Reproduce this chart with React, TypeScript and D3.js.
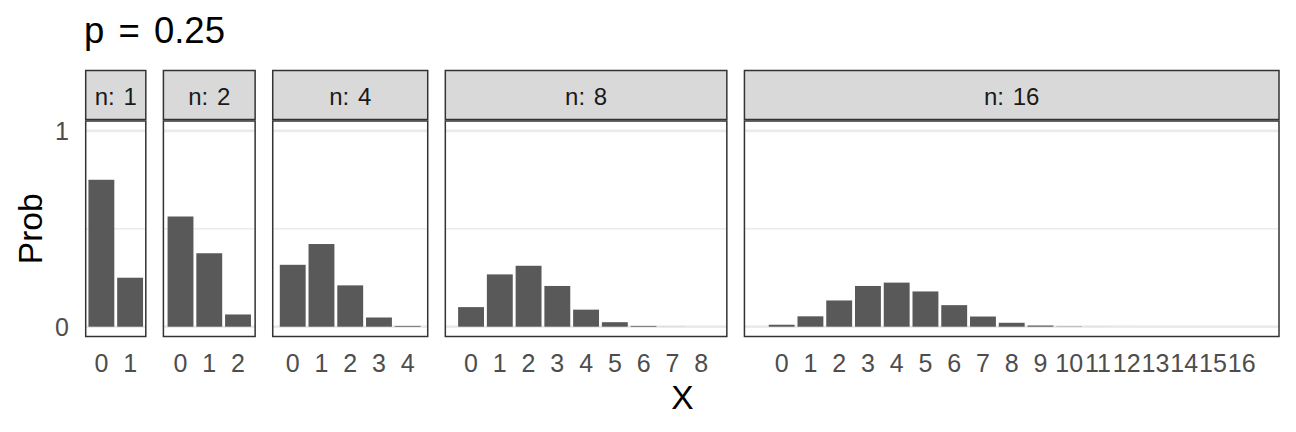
import * as d3 from "d3";
import React, { useEffect, useRef } from "react";

// sizes of each facet
const trials = [1, 2, 4, 8, 16];

// probabilities, one list per facet (x = 0..n)
const probN1 = [0.75, 0.25];
const probN2 = [0.5625, 0.375, 0.0625];
const probN4 = [0.316, 0.422, 0.211, 0.047, 0.004];
const probN8 = [0.1, 0.267, 0.311, 0.208, 0.087, 0.023, 0.004, 0.0004, 0.00002];
const probN16 = [
  0.01, 0.053, 0.134, 0.208, 0.225, 0.18, 0.11, 0.052, 0.02, 0.006, 0.0015,
  0.0003, 0.00004, 0, 0, 0, 0,
];
const probs = [probN1, probN2, probN4, probN8, probN16];

const yTicks = [0, 1];
const yMinor = [0.5];
const titleText = "p = 0.25";

export default function App() {
  const ref = useRef<SVGSVGElement>(null);

  useEffect(() => {
    const width = 1296,
      height = 432;
    const left = 85.7,
      right = 1279,
      gap = 17.6;
    const stripTop = 70.5,
      stripBottom = 119.5;
    const panelTop = 121,
      panelBottom = 336.5;
    const font = "'Liberation Sans', Arial, Helvetica, sans-serif";

    const svg = d3.select(ref.current);
    svg.selectAll("*").remove();
    svg.attr("width", width).attr("height", height);

    svg.append("rect").attr("width", width).attr("height", height).attr("fill", "white");

    // x domains like ggplot: bar extent +-0.45, expanded by 5%
    const domains = trials.map((n) => {
      const lo = -0.45,
        hi = n + 0.45;
      const pad = 0.05 * (hi - lo);
      return [lo - pad, hi + pad];
    });
    const spans = domains.map((d) => d[1] - d[0]);
    const totalSpan = d3.sum(spans);
    const pxPerUnit = (right - left - gap * (trials.length - 1)) / totalSpan;

    const y = d3.scaleLinear().domain([-0.05, 1.05]).range([panelBottom, panelTop]);

    let x0 = left;
    trials.forEach((n, i) => {
      const w = spans[i] * pxPerUnit;
      const x = d3.scaleLinear().domain(domains[i]).range([x0, x0 + w]);
      const g = svg.append("g");

      // grid
      g.selectAll("line.minor")
        .data(yMinor)
        .join("line")
        .attr("x1", x0)
        .attr("x2", x0 + w)
        .attr("y1", (d) => y(d))
        .attr("y2", (d) => y(d))
        .attr("stroke", "#ebebeb")
        .attr("stroke-width", 1.4);
      g.selectAll("line.major")
        .data(yTicks)
        .join("line")
        .attr("x1", x0)
        .attr("x2", x0 + w)
        .attr("y1", (d) => y(d))
        .attr("y2", (d) => y(d))
        .attr("stroke", "#ebebeb")
        .attr("stroke-width", 2.8);

      // bars
      const vals = probs[i];
      g.selectAll("rect.bar")
        .data(vals)
        .join("rect")
        .attr("x", (_, k) => x(k - 0.45))
        .attr("width", x(0.45) - x(-0.45))
        .attr("y", (d) => y(d))
        .attr("height", (d) => y(0) - y(d))
        .attr("fill", "#595959");

      // panel border
      g.append("rect")
        .attr("x", x0)
        .attr("y", panelTop)
        .attr("width", w)
        .attr("height", panelBottom - panelTop)
        .attr("fill", "none")
        .attr("stroke", "#333333")
        .attr("stroke-width", 1.5);

      // strip
      g.append("rect")
        .attr("x", x0)
        .attr("y", stripTop)
        .attr("width", w)
        .attr("height", stripBottom - stripTop)
        .attr("fill", "#d9d9d9")
        .attr("stroke", "#333333")
        .attr("stroke-width", 1.5);
      g.append("text")
        .attr("x", x0 + w / 2)
        .attr("y", 105)
        .attr("text-anchor", "middle")
        .attr("font-family", font)
        .attr("font-size", 24)
        .attr("word-spacing", 2)
        .attr("fill", "#1a1a1a")
        .text(`n: ${n}`);

      // x tick labels
      g.selectAll("text.tick")
        .data(d3.range(0, n + 1))
        .join("text")
        .attr("x", (d) => x(d))
        .attr("y", 372)
        .attr("text-anchor", "middle")
        .attr("font-family", font)
        .attr("font-size", 25)
        .attr("fill", "#4d4d4d")
        .text((d) => d);

      x0 += w + gap;
    });

    // y tick labels
    svg.append("g")
      .selectAll("text")
      .data(yTicks)
      .join("text")
      .attr("x", 69)
      .attr("y", (d) => y(d) + 9)
      .attr("text-anchor", "end")
      .attr("font-family", font)
      .attr("font-size", 25)
      .attr("fill", "#4d4d4d")
      .text((d) => d);

    // axis titles and title
    svg.append("text")
      .attr("x", (left + right) / 2)
      .attr("y", 409)
      .attr("text-anchor", "middle")
      .attr("font-family", font)
      .attr("font-size", 33.5)
      .attr("fill", "black")
      .text("X");
    svg.append("text")
      .attr("transform", `translate(41.5, ${(panelTop + panelBottom) / 2}) rotate(-90)`)
      .attr("text-anchor", "middle")
      .attr("font-family", font)
      .attr("font-size", 33.5)
      .attr("fill", "black")
      .text("Prob");
    svg.append("text")
      .attr("x", 84)
      .attr("y", 43)
      .attr("font-family", font)
      .attr("font-size", 36.5)
      .attr("word-spacing", 4)
      .attr("fill", "black")
      .text(titleText);
  }, []);

  return (
    <div style={{ position: "absolute", left: 0, top: 0 }}>
      <svg ref={ref} style={{ display: "block" }}></svg>
    </div>
  );
}
